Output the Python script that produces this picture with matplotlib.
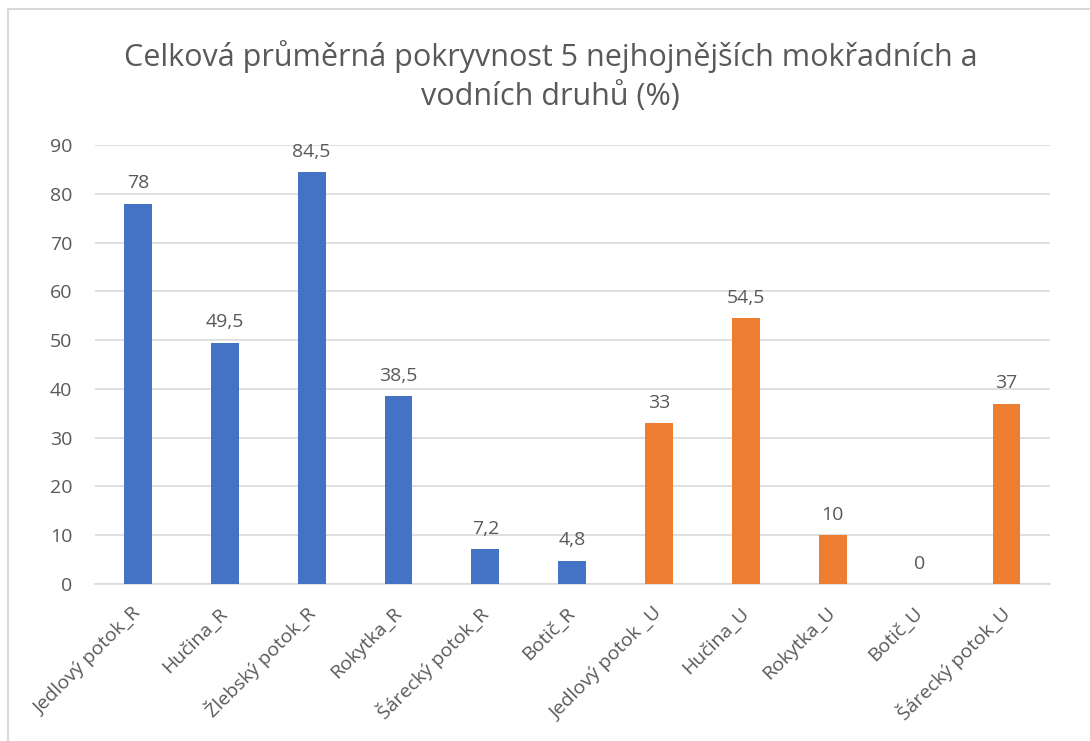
import matplotlib
matplotlib.use('Agg')
import matplotlib.pyplot as plt
from matplotlib.lines import Line2D

plt.rcParams['font.family'] = ['Open Sans', 'DejaVu Sans']

# data
categories = ['Jedlový potok_R', 'Hučina_R', 'Žlebský potok_R', 'Rokytka_R',
              'Šárecký potok_R', 'Botič_R', 'Jedlový potok _U', 'Hučina_U',
              'Rokytka_U', 'Botič_U', 'Šárecký potok_U']
values = [78, 49.5, 84.5, 38.5, 7.2, 4.8, 33, 54.5, 10, 0, 37]
groups = ['R', 'R', 'R', 'R', 'R', 'R', 'U', 'U', 'U', 'U', 'U']
labels = ['78', '49,5', '84,5', '38,5', '7,2', '4,8', '33', '54,5', '10', '0', '37']

group_colors = {'R': '#4472C4', 'U': '#ED7D31'}
text_col = '#595959'

fig = plt.figure(figsize=(10.9, 7.41), dpi=100)
ax = fig.add_axes([94.5 / 1090, 1 - 584 / 741, (1050 - 94.5) / 1090, (584 - 145) / 741])

x = range(len(categories))
bars = ax.bar(x, values, width=0.32, color=[group_colors[g] for g in groups], zorder=3)

for b, lab in zip(bars, labels):
    ax.annotate(lab, (b.get_x() + b.get_width() / 2, b.get_height()),
                xytext=(0, 8), textcoords='offset points', ha='center', va='bottom',
                fontsize=14, color=text_col)

ax.set_xlim(-0.5, len(categories) - 0.5)
ax.set_ylim(0, 90)
ax.set_yticks(range(0, 91, 10))
ax.yaxis.grid(True, color='#D9D9D9', linewidth=1.2, zorder=0)
ax.tick_params(axis='both', length=0, labelsize=14, colors=text_col)
ax.tick_params(axis='y', pad=16)
ax.set_xticks(list(x))
ax.set_xticklabels(categories, rotation=45, ha='right', va='center', rotation_mode='anchor')
ax.tick_params(axis='x', pad=19)

for s in ['top', 'right', 'left']:
    ax.spines[s].set_visible(False)
ax.spines['bottom'].set_color('#D9D9D9')
ax.spines['bottom'].set_linewidth(1.2)

fig.text(0.505, 1 - 76 / 741,
         'Celková průměrná pokryvnost 5 nejhojnějších mokřadních a\nvodních druhů (%)',
         ha='center', va='center', fontsize=22, color=text_col, linespacing=1.37)

# chart frame (top and left edges visible)
fig.add_artist(Line2D([8 / 1090, 8 / 1090], [0, 1 - 9 / 741], transform=fig.transFigure,
                      color='#D9D9D9', linewidth=1.5))
fig.add_artist(Line2D([8 / 1090, 1], [1 - 9 / 741, 1 - 9 / 741], transform=fig.transFigure,
                      color='#D9D9D9', linewidth=1.5))

fig.savefig('out.png', dpi=100)
plt.close()
